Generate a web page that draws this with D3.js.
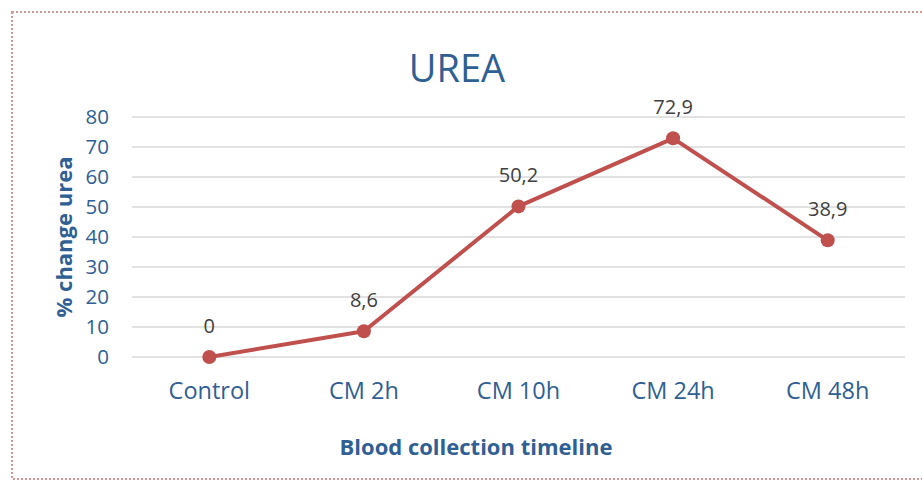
<!DOCTYPE html>
<html>
<head>
<meta charset="utf-8">
<script src="https://cdn.jsdelivr.net/npm/d3@7"></script>
<style>
  body { margin: 0; background: #fff; }
  svg { display: block; font-family: "Open Sans", sans-serif; }
</style>
</head>
<body>
<svg id="chart" width="922" height="480"></svg>
<script>
const categories = ['Control', 'CM 2h', 'CM 10h', 'CM 24h', 'CM 48h'];
const values = [0, 8.6, 50.2, 72.9, 38.9];
const valueLabels = ['0', '8,6', '50,2', '72,9', '38,9'];
const yTicks = [0, 10, 20, 30, 40, 50, 60, 70, 80];

const margin = {top: 117, left: 132, right: 17, bottom: 123};
const width = 922 - margin.left - margin.right;
const height = 480 - margin.top - margin.bottom;

const svg = d3.select('#chart');

// dotted outer frame
svg.append('rect')
  .attr('x', 12).attr('y', 12)
  .attr('width', 930).attr('height', 467)
  .attr('fill', 'none')
  .attr('stroke', '#d99594')
  .attr('stroke-width', 2)
  .attr('stroke-dasharray', '2,2');

const chart = svg.append('g')
  .attr('transform', `translate(${margin.left},${margin.top})`);

const xScale = d3.scaleBand().domain(categories).range([0, width]);
const yScale = d3.scaleLinear().domain([0, 80]).range([height, 0]);

// gridlines
chart.selectAll('.grid')
  .data(yTicks)
  .enter()
  .append('line')
  .attr('class', 'grid')
  .attr('x1', 0).attr('x2', width)
  .attr('y1', d => yScale(d)).attr('y2', d => yScale(d))
  .attr('stroke', '#d9d9d9')
  .attr('stroke-width', 1.5);

const yAxis = d3.axisLeft(yScale).tickValues(yTicks).tickSize(0).tickPadding(23);
const yAxisG = chart.append('g').call(yAxis);
yAxisG.select('.domain').remove();
yAxisG.selectAll('text')
  .attr('fill', '#2f5f93')
  .style('font-size', '20.5px')
  .style('font-family', '"Open Sans", sans-serif');

const xAxis = d3.axisBottom(xScale).tickSize(0).tickPadding(25);
const xAxisG = chart.append('g').attr('transform', `translate(0,${height})`).call(xAxis);
xAxisG.select('.domain').remove();
xAxisG.selectAll('text')
  .attr('fill', '#2f5f93')
  .style('font-size', '23.5px')
  .style('font-family', '"Open Sans", sans-serif');

// title and axis labels
svg.append('text')
  .attr('x', 457).attr('y', 82)
  .attr('text-anchor', 'middle')
  .attr('fill', '#2f5f93')
  .style('font-size', '38px')
  .text('UREA');

svg.append('text')
  .attr('x', 476).attr('y', 455)
  .attr('text-anchor', 'middle')
  .attr('fill', '#2f5f93')
  .style('font-size', '22px')
  .style('font-weight', 'bold')
  .text('Blood collection timeline');

svg.append('text')
  .attr('transform', 'translate(72,237) rotate(-90)')
  .attr('text-anchor', 'middle')
  .attr('fill', '#2f5f93')
  .style('font-size', '22px')
  .style('font-weight', 'bold')
  .text('% change urea');

const xValue = (d, i) => xScale(categories[i]) + xScale.bandwidth() / 2;

const line = d3.line()
  .x(xValue)
  .y(d => yScale(d));

chart.append('path')
  .datum(values)
  .attr('fill', 'none')
  .attr('stroke', '#c0504d')
  .attr('stroke-width', 4)
  .attr('stroke-linejoin', 'round')
  .attr('d', line);

chart.selectAll('.dot')
  .data(values)
  .enter()
  .append('circle')
  .attr('class', 'dot')
  .attr('cx', xValue)
  .attr('cy', d => yScale(d))
  .attr('r', 7)
  .attr('fill', '#c0504d');

chart.selectAll('.vlabel')
  .data(values)
  .enter()
  .append('text')
  .attr('class', 'vlabel')
  .attr('x', xValue)
  .attr('y', d => yScale(d) - 24)
  .attr('text-anchor', 'middle')
  .attr('fill', '#404040')
  .style('font-size', '20px')
  .text((d, i) => valueLabels[i]);
</script>
</body>
</html>
